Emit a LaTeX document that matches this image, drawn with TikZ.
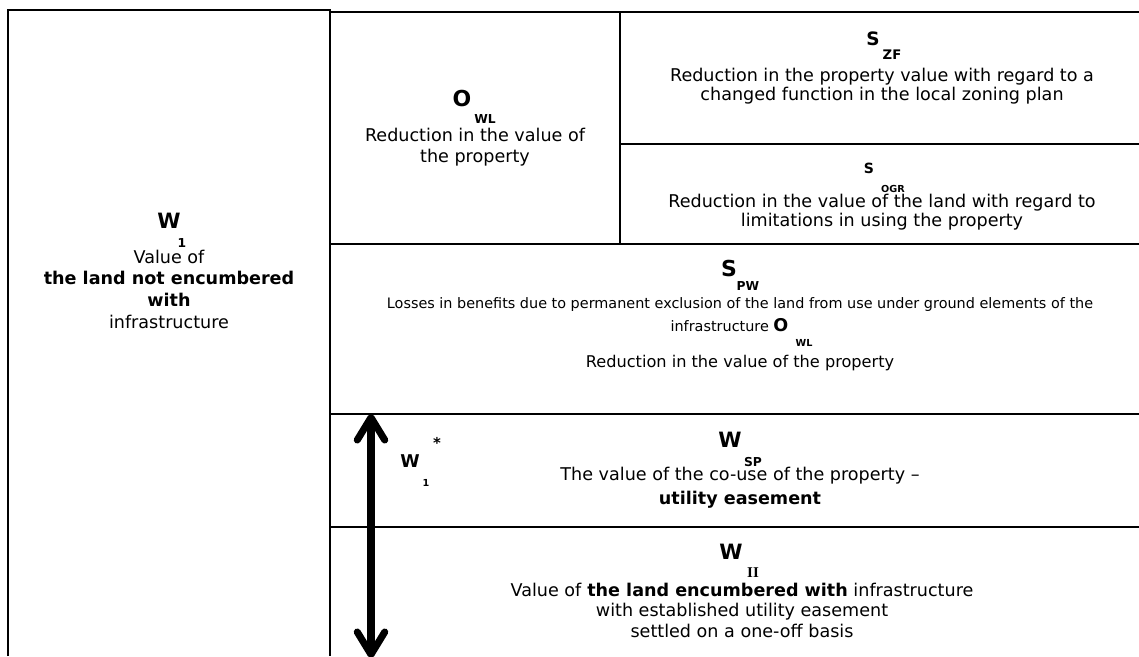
\documentclass[tikz,border=0pt]{standalone}
\usepackage{fontspec}
\setmainfont{DejaVu Sans}
\newfontfamily\romanbf{Liberation Serif}
\usetikzlibrary{arrows.meta}

\tikzset{
  grid line/.style={line width=0.9pt, black},
  sym/.style={anchor=base, inner sep=0pt, font=\fontsize{12}{14}\selectfont\bfseries},
  idx/.style={anchor=base, inner sep=0pt, font=\fontsize{7}{8}\selectfont\bfseries},
  desc/.style={anchor=base, inner sep=0pt, align=center, font=\fontsize{10}{11.4}\selectfont},
  spanarrow/.style={line width=4pt,
    {Straight Barb[round, length=0.45cm, width=0.55cm]}-{Straight Barb[round, length=0.45cm, width=0.55cm]}}
}

\begin{document}
\begin{tikzpicture}[x=0.02cm, y=-0.02cm]
  \useasboundingbox (0,0) rectangle (1139,656);

  % Left column
  \draw[grid line] (8,656) -- (8,10) -- (330,10) -- (330,656);

  % Right part
  \draw[grid line] (330,12) -- (1139,12);
  \draw[grid line] (620,12) -- (620,244);
  \draw[grid line] (620,144) -- (1139,144);
  \draw[grid line] (330,244) -- (1139,244);
  \draw[grid line] (330,414) -- (1139,414);
  \draw[grid line] (330,527) -- (1139,527);

  % W_1 (base of a text block = its last line)
  \node (w1) [sym] at (169,228) {W};
  \node (w1idx) [idx] at (182,247) {1};
  \node (w1txt) [desc, font=\fontsize{10}{12.33}\selectfont] at (169,328)
    {Value of\\\textbf{the land not encumbered}\\\textbf{with}\\infrastructure};

  % O_WL
  \node (owl) [sym, font=\fontsize{12.5}{14}\selectfont\bfseries] at (462,106) {O};
  \node (owlidx) [idx] at (485,123) {WL};
  \node (owltxt) [desc] at (475,162) {Reduction in the value of\\the property};

  % S_ZF
  \node (szf) [sym, font=\fontsize{10.5}{12}\selectfont\bfseries] at (873,45) {S};
  \node (szfidx) [idx, font=\fontsize{7.5}{9}\selectfont\bfseries] at (892,59) {ZF};
  \node (szftxt) [desc, font=\fontsize{10}{10.8}\selectfont] at (882,100)
    {Reduction in the property value with regard to a\\changed function in the local zoning plan};

  % S_OGR
  \node (sogr) [sym, font=\fontsize{8}{10}\selectfont\bfseries] at (869,173) {S};
  \node (sogridx) [idx, font=\fontsize{5.5}{7}\selectfont\bfseries] at (893,192) {OGR};
  \node (sogrtxt) [desc, font=\fontsize{10}{10.8}\selectfont] at (882,226)
    {Reduction in the value of the land with regard to\\limitations in using the property};

  % S_PW
  \node (spw) [sym, font=\fontsize{12.5}{14}\selectfont\bfseries] at (729,276) {S};
  \node (spwidx) [idx] at (748,290) {PW};
  \node (spwtxt) [desc, font=\fontsize{8.2}{10}\selectfont] at (740,308)
    {Losses in benefits due to permanent exclusion of the land from use under ground elements of the};
  \node (spwinfra) [desc, font=\fontsize{8.2}{10}\selectfont] at (729.5,331)
    {infrastructure {\fontsize{10}{12}\selectfont\bfseries O}};
  \node (spwidx2) [idx, font=\fontsize{5.5}{7}\selectfont\bfseries] at (804,346) {WL};
  \node (spwred) [desc, font=\fontsize{9.2}{11}\selectfont] at (740,367)
    {Reduction in the value of the property};

  % W_SP
  \node (wsp) [sym] at (730,447) {W};
  \node (wspidx) [idx] at (753,466) {SP};
  \node (wsptxt) [desc, font=\fontsize{10}{13.1}\selectfont] at (740,504)
    {The value of the co-use of the property –\\\textbf{utility easement}};

  % W_II
  \node (wii) [sym] at (731,559) {W};
  \node (wiiidx) [idx, font=\fontsize{8.5}{10}\selectfont\romanbf\bfseries] at (753,577) {II};
  \node (wiitxt) [desc, font=\fontsize{10}{11.66}\selectfont] at (742,637)
    {Value of \textbf{the land encumbered with} infrastructure\\with established utility easement\\settled on a one-off basis};

  % W_1^* and the span arrow
  \node (w1s) [sym, font=\fontsize{10}{12}\selectfont\bfseries] at (410,467) {W};
  \node (w1sidx) [idx, font=\fontsize{5.5}{7}\selectfont\bfseries] at (426,486) {1};
  \node (w1star) [idx, font=\fontsize{8.5}{10}\selectfont\bfseries] at (437,448) {*};
  \coordinate (spantop) at (371,414);
  \coordinate (spanbot) at (371,658);
  \draw[spanarrow] (spanbot) -- (spantop);

\end{tikzpicture}
\end{document}
